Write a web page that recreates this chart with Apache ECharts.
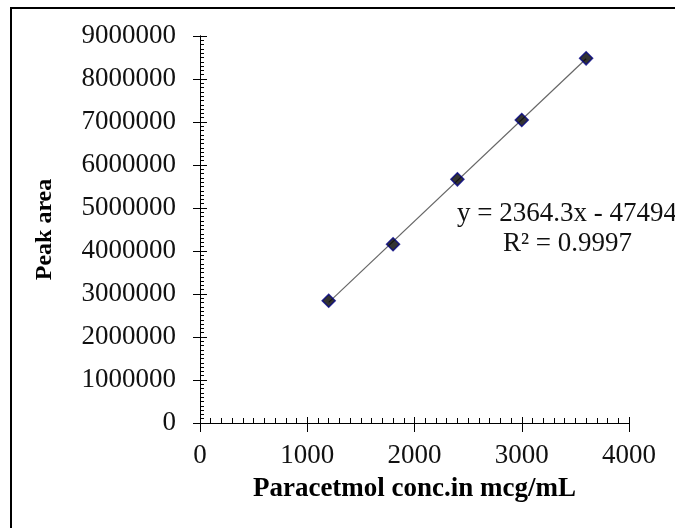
<!DOCTYPE html>
<html>
<head>
<meta charset="utf-8">
<script src="https://cdn.jsdelivr.net/npm/echarts@6/dist/echarts.min.js"></script>
<style>html,body{margin:0;padding:0;background:#fff}#c{width:675px;height:528px}</style>
</head>
<body>
<div id="c"></div>
<script>
var concentrations = [1200, 1800, 2400, 3000, 3600];
var peakAreas = [2844000, 4156000, 5667000, 7047000, 8481000];
var xTicks = [0, 1000, 2000, 3000, 4000];
var yTicks = [0, 1000000, 2000000, 3000000, 4000000, 5000000, 6000000, 7000000, 8000000, 9000000];
var equationText = 'y = 2364.3x - 47494';
var r2Text = 'R\u00b2 = 0.9997';

// least-squares trendline from the data
var n = concentrations.length, sx = 0, sy = 0, sxx = 0, sxy = 0;
for (var i = 0; i < n; i++) { sx += concentrations[i]; sy += peakAreas[i]; sxx += concentrations[i]*concentrations[i]; sxy += concentrations[i]*peakAreas[i]; }
var slope = (n*sxy - sx*sy) / (n*sxx - sx*sx);
var intercept = (sy - slope*sx) / n;
var xMin = Math.min.apply(null, concentrations), xMax = Math.max.apply(null, concentrations);
var trend = [[xMin, slope*xMin + intercept], [xMax, slope*xMax + intercept]];

var font = 'Liberation Serif';
var plain = function (v) { return String(v); };
var chart = echarts.init(document.getElementById('c'));
var baseX = {
  type: 'value', min: xTicks[0], max: xTicks[xTicks.length-1], interval: xTicks[1]-xTicks[0],
  position: 'bottom', splitLine: {show: false},
  axisLine: {show: true, onZero: false, lineStyle: {color: '#000', width: 1}}
};
var baseY = {
  type: 'value', min: yTicks[0], max: yTicks[yTicks.length-1], interval: yTicks[1]-yTicks[0],
  position: 'left', splitLine: {show: false},
  axisLine: {show: true, onZero: false, lineStyle: {color: '#000', width: 1}}
};
chart.setOption({
  animation: false,
  backgroundColor: '#fff',
  grid: {left: 200, top: 36, right: 46, bottom: 105},
  xAxis: [
    Object.assign({}, baseX, {
      name: 'Paracetmol conc.in mcg/mL', nameLocation: 'middle', nameGap: 53,
      nameTextStyle: {fontFamily: font, fontWeight: 'bold', fontSize: 27, color: '#000'},
      axisTick: {show: true, inside: false, length: 9, lineStyle: {color: '#000'}},
      axisLabel: {fontFamily: font, fontSize: 27, color: '#111', margin: 19, formatter: plain}
    }),
    Object.assign({}, baseX, {
      axisTick: {show: true, inside: true, length: 6, lineStyle: {color: '#000'}},
      minorTick: {show: true, splitNumber: 10, length: 5, lineStyle: {color: '#000'}},
      axisLabel: {show: false}
    })
  ],
  yAxis: [
    Object.assign({}, baseY, {
      name: 'Peak area', nameLocation: 'middle', nameGap: 143, nameRotate: 90,
      nameTextStyle: {fontFamily: font, fontWeight: 'bold', fontSize: 24, color: '#000'},
      axisTick: {show: true, inside: false, length: 7, lineStyle: {color: '#000'}},
      axisLabel: {fontFamily: font, fontSize: 27, color: '#111', margin: 24, formatter: plain}
    }),
    Object.assign({}, baseY, {
      axisTick: {show: true, inside: true, length: 7, lineStyle: {color: '#000'}},
      minorTick: {show: true, splitNumber: 10, length: 4, lineStyle: {color: '#000'}},
      axisLabel: {show: false}
    })
  ],
  series: [
    {
      type: 'line', data: trend, symbol: 'none', z: 2,
      lineStyle: {color: '#666', width: 1.2}
    },
    {
      type: 'scatter', z: 3,
      data: concentrations.map(function (c, i) { return [c, peakAreas[i]]; }),
      symbol: 'diamond', symbolSize: [13, 13],
      itemStyle: {color: '#000', borderColor: '#000080', borderWidth: 1.5}
    }
  ],
  graphic: [
    {type: 'rect', shape: {x: 11, y: 8, width: 2000, height: 2000}, style: {fill: null, stroke: '#000', lineWidth: 2}, z: 10},
    {type: 'text', left: 457, top: 200, style: {text: equationText, font: '27px "Liberation Serif"', fill: '#111'}, z: 10},
    {type: 'text', left: 503, top: 230, style: {text: r2Text, font: '27px "Liberation Serif"', fill: '#111'}, z: 10}
  ]
});
</script>
</body>
</html>
